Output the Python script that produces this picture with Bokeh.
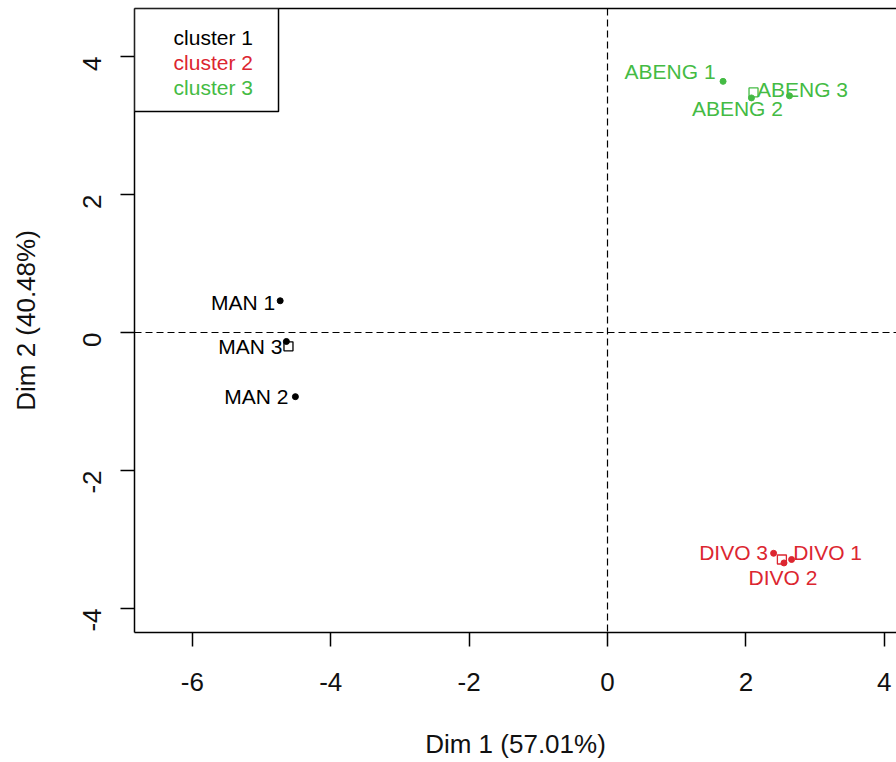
import math
from bokeh.plotting import figure
from bokeh.models import Range1d, Span, BoxAnnotation, Label, FixedTicker, LinearAxis, ColumnDataSource
from bokeh.core.properties import value
from bokeh.embed import file_html
from bokeh.resources import INLINE

# ---- data ----
names = ["MAN 1", "MAN 2", "MAN 3", "DIVO 1", "DIVO 2", "DIVO 3", "ABENG 1", "ABENG 2", "ABENG 3"]
dim1 = [-4.73, -4.51, -4.64, 2.66, 2.55, 2.40, 1.67, 2.08, 2.63]
dim2 = [0.46, -0.93, -0.13, -3.29, -3.34, -3.20, 3.64, 3.40, 3.43]
cluster = [1, 1, 1, 2, 2, 2, 3, 3, 3]
clusters = [1, 2, 3]
cluster_names = ["cluster 1", "cluster 2", "cluster 3"]
center_dim1 = [-4.61, 2.52, 2.11]
center_dim2 = [-0.20, -3.29, 3.48]
x_ticks = [-6, -4, -2, 0, 2, 4]
x_tick_labels = ["-6", "-4", "-2", "0", "2", "4"]
y_ticks = [-4, -2, 0, 2, 4]
y_tick_labels = ["-4", "-2", "0", "2", "4"]
x_title = "Dim 1 (57.01%)"
y_title = "Dim 2 (40.48%)"

# ---- style ----
colors = {1: "#000000", 2: "#DC2630", 3: "#44BB44"}
# label offsets in pixels (dx, dy; dy positive = down)
label_offsets = [(-37, 2), (-39, 0), (-36, 5),
                 (36, -7), (-1, 15), (-40, -1),
                 (-53, -10), (-14, 11), (13, -6)]
X0, X1 = -6.835, 4.176
Y0, Y1 = -4.348, 4.696
FONT = "Liberation Sans"

p = figure(width=896, height=762, x_range=Range1d(X0, X1), y_range=Range1d(Y0, Y1),
           output_backend="svg", toolbar_location=None,
           min_border_left=134, min_border_right=0, min_border_top=8, min_border_bottom=130)
p.grid.visible = False
p.outline_line_color = None
p.background_fill_color = "white"

for ax, ticks, labels, title in [(p.xaxis[0], x_ticks, x_tick_labels, x_title),
                                  (p.yaxis[0], y_ticks, y_tick_labels, y_title)]:
    ax.ticker = FixedTicker(ticks=ticks)
    ax.major_label_overrides = {t: l for t, l in zip(ticks, labels)}
    ax.major_tick_out = 14
    ax.major_tick_in = 0
    ax.minor_tick_out = 0
    ax.minor_tick_in = 0
    ax.axis_line_width = 1.5
    ax.axis_line_color = "black"
    ax.major_tick_line_width = 1.5
    ax.major_tick_line_color = "black"
    ax.major_label_text_font = FONT
    ax.major_label_text_font_size = "26px"
    ax.major_label_text_color = "#111111"
    ax.axis_label = title
    ax.axis_label_text_font = FONT
    ax.axis_label_text_font_size = "26px"
    ax.axis_label_text_font_style = "normal"
    ax.axis_label_text_color = "#111111"

p.xaxis[0].major_label_standoff = 26
p.xaxis[0].axis_label_standoff = 35
p.yaxis[0].major_label_orientation = math.pi / 2
p.yaxis[0].major_label_standoff = 28
p.yaxis[0].axis_label_standoff = 31

top_axis = LinearAxis(ticker=FixedTicker(ticks=[]), axis_line_width=1.5, axis_line_color="black",
                      major_tick_out=0, major_tick_in=0, minor_tick_out=0, minor_tick_in=0,
                      major_label_text_font_size="0px")
p.add_layout(top_axis, "above")

p.add_layout(Span(location=0, dimension="height", line_dash="7 4", line_width=1.2, line_color="black"))
p.add_layout(Span(location=0, dimension="width", line_dash="7 4", line_width=1.2, line_color="black"))

# points
for c in clusters:
    xs = [x for x, k in zip(dim1, cluster) if k == c]
    ys = [y for y, k in zip(dim2, cluster) if k == c]
    p.scatter(xs, ys, marker="circle", size=6, color=colors[c])
    p.scatter([center_dim1[c - 1]], [center_dim2[c - 1]], marker="square", size=9,
              fill_color=None, line_color=colors[c], line_width=1.3)

# labels
for n, x, y, k, (dx, dy) in zip(names, dim1, dim2, cluster, label_offsets):
    src = ColumnDataSource(dict(x=[x], y=[y], t=[n]))
    p.text(x="x", y="y", text="t", source=src, x_offset=dx, y_offset=dy,
           text_align="center", text_baseline="middle", text_color=colors[k],
           text_font=value(FONT), text_font_size="21px")

# legend box
p.add_layout(BoxAnnotation(left=X0, right=-4.754, top=Y1, bottom=3.203,
                           fill_color="white", fill_alpha=1.0, line_color="black",
                           line_alpha=1.0, line_width=1.5))
leg_y = [4.275, 3.913, 3.551]
for c, nm, ly in zip(clusters, cluster_names, leg_y):
    p.add_layout(Label(x=-6.27, y=ly, text=nm, text_color=colors[c], text_align="left",
                       text_baseline="middle", text_font=FONT, text_font_size="21px"))

open("out.html", "w").write(file_html(p, INLINE))
